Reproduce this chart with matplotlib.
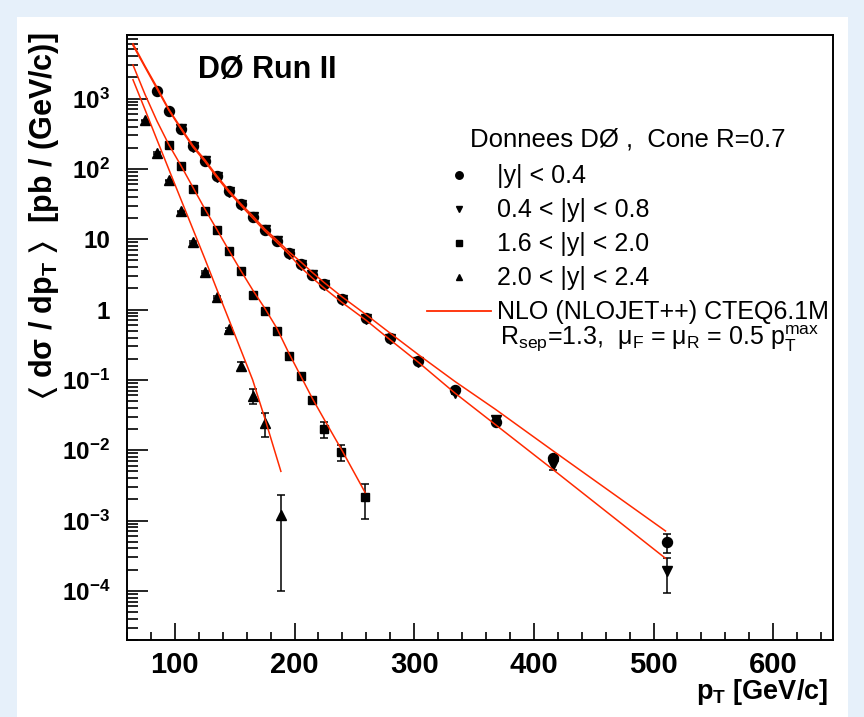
import math
import matplotlib
matplotlib.use('Agg')
import matplotlib.pyplot as plt
from matplotlib.ticker import FixedLocator, MultipleLocator, LogLocator, FuncFormatter, NullFormatter
from matplotlib.lines import Line2D
from matplotlib.patches import Rectangle

# ---------------- data ----------------
# |y| < 0.4  (circles)
pt_y04 = [85, 95, 105, 115, 125, 135, 145, 155, 165, 175, 185, 195, 205, 215,
          225, 239.5, 259.6, 279.6, 303.6, 334, 368, 416, 511]
xs_y04 = [1290, 675, 370, 209, 131, 78, 48, 32, 21, 13.7, 9.55, 6.4, 4.46, 3.14,
          2.27, 1.39, 0.762, 0.396, 0.184, 0.0714, 0.025, 0.0078, 5.0e-4]
er_y04 = [30, 15, 8, 4, 2.5, 1.5, 0.9, 0.6, 0.4, 0.25, 0.18, 0.12, 0.08, 0.06,
          0.04, 0.025, 0.014, 0.008, 0.004, 0.002, 0.001, 0.0006, 1.5e-4]

# 0.4 < |y| < 0.8  (down triangles)
pt_y08 = [105, 115, 125, 135, 145, 155, 165, 175, 185, 195, 205, 215,
          225, 239.5, 259.6, 279.6, 303.6, 334, 368, 416, 511]
xs_y08 = [365, 205, 128, 76, 47, 31, 20.5, 13.3, 9.3, 6.2, 4.3, 3.05,
          2.2, 1.35, 0.74, 0.385, 0.178, 0.065, 0.027, 0.0061, 1.92e-4]
er_y08 = [8, 4, 2.5, 1.5, 0.9, 0.6, 0.4, 0.25, 0.18, 0.12, 0.08, 0.06,
          0.04, 0.025, 0.014, 0.008, 0.004, 0.002, 0.0025, 0.0009, 1.0e-4]

# 1.6 < |y| < 2.0  (squares)
pt_y20 = [95, 105, 115, 125, 135, 145, 155, 165, 175, 185, 195, 205, 215,
          225, 238.7, 259]
xs_y20 = [220, 108, 52, 25.5, 13.3, 6.7, 3.5, 1.63, 0.946, 0.49, 0.217, 0.113, 0.051,
          0.0198, 0.0095, 0.00216]
er_y20 = [5, 2.5, 1.2, 0.6, 0.3, 0.15, 0.08, 0.04, 0.025, 0.013, 0.007, 0.004, 0.003,
          0.005, 0.0025, 0.0011]

# 2.0 < |y| < 2.4  (up triangles)
pt_y24 = [75, 85, 95, 105, 115, 125, 135, 145, 155, 165, 175, 188.6]
xs_y24 = [490, 168, 68.7, 24.9, 9.1, 3.39, 1.5, 0.52, 0.157, 0.059, 0.0245, 0.0012]
er_y24 = [12, 4, 1.6, 0.6, 0.22, 0.09, 0.05, 0.02, 0.02, 0.014, 0.009, 0.0011]

# NLO (NLOJET++) CTEQ6.1M curves
nlo_pt_a = [65, 75, 85, 95, 105, 115, 125, 135, 145, 155, 165, 175, 185, 195, 205,
            215, 225, 240, 260, 280, 304, 334, 368, 416, 510]
nlo_y04 = [6000, 2900, 1450, 700, 385, 215, 135, 80, 49.5, 32, 21.5, 14, 9.8, 6.7, 4.8,
           3.35, 2.4, 1.5, 0.84, 0.46, 0.225, 0.095, 0.038, 0.0098, 7.1e-4]
nlo_y08 = [5700, 2800, 1380, 680, 370, 205, 128, 76, 47, 30.5, 20, 13.2, 9.1, 6.2, 4.0,
           2.8, 2.0, 1.25, 0.70, 0.37, 0.175, 0.065, 0.023, 0.0053, 2.9e-4]
nlo_pt_c = [65, 75, 85, 95, 105, 115, 125, 135, 145, 155, 165, 175, 185, 195, 205,
            215, 225, 240, 259]
nlo_y20 = [3000, 1150, 480, 220, 112, 55, 27, 13.8, 7.0, 3.6, 1.9, 1.05, 0.55, 0.245,
           0.115, 0.054, 0.027, 0.0097, 0.0025]
nlo_pt_d = [65, 75, 85, 95, 105, 115, 125, 135, 145, 155, 165, 175, 188.6]
nlo_y24 = [1850, 700, 260, 98, 37, 14, 5.3, 1.95, 0.73, 0.27, 0.1, 0.029, 0.005]

labels = ["|y| < 0.4", "0.4 < |y| < 0.8", "1.6 < |y| < 2.0", "2.0 < |y| < 2.4",
          "NLO (NLOJET++) CTEQ6.1M"]
legend_title = "Donnees DØ ,  Cone R=0.7"
y_decades = [1e-4, 1e-3, 1e-2, 1e-1, 1, 10, 1e2, 1e3]
x_range = (60, 650)
y_range = (2e-5, 8e3)

# ---------------- style ----------------
plt.rcParams['font.family'] = ['Liberation Sans', 'DejaVu Sans']
plt.rcParams['font.weight'] = 'bold'
plt.rcParams['mathtext.fontset'] = 'custom'
plt.rcParams['mathtext.rm'] = 'Liberation Sans'
plt.rcParams['mathtext.it'] = 'Liberation Sans:italic'
plt.rcParams['mathtext.bf'] = 'Liberation Sans:bold'
plt.rcParams['mathtext.default'] = 'regular'
plt.rcParams['mathtext.fallback'] = 'stix'

RED = '#FF2A00'
W, H = 864, 717
fig = plt.figure(figsize=(W / 100, H / 100), dpi=100, facecolor='#E6F0FA')
fig.add_artist(Rectangle((17 / W, 0), (848 - 17) / W, (H - 17) / H,
                         transform=fig.transFigure, facecolor='white',
                         edgecolor='none', zorder=-10))

ax = fig.add_axes([127 / W, 1 - 640 / H, (833 - 127) / W, (640 - 35) / H])
ax.set_facecolor('white')
ax.set_yscale('log')
ax.set_xlim(*x_range)
ax.set_ylim(*y_range)

ekw = dict(color='k', ls='none', elinewidth=1.1, capsize=3, capthick=1.1, zorder=3)
ax.errorbar(pt_y04, xs_y04, yerr=er_y04, marker='o', ms=7.2, **ekw)
ax.errorbar(pt_y08, xs_y08, yerr=er_y08, marker='v', ms=7.4, **ekw)
ax.errorbar(pt_y20, xs_y20, yerr=er_y20, marker='s', ms=6.3, **ekw)
ax.errorbar(pt_y24, xs_y24, yerr=er_y24, marker='^', ms=7.4, **ekw)

lkw = dict(color=RED, lw=1.1, zorder=4)
ax.plot(nlo_pt_a, nlo_y04, **lkw)
ax.plot(nlo_pt_a, nlo_y08, **lkw)
ax.plot(nlo_pt_c, nlo_y20, **lkw)
ax.plot(nlo_pt_d, nlo_y24, **lkw)

# ticks
def yfmt(v, pos):
    if abs(v - 1) < 1e-9:
        return "1"
    if abs(v - 10) < 1e-9:
        return "10"
    e = int(round(math.log10(v)))
    return r"$10^{%d}$" % e

ax.yaxis.set_major_locator(FixedLocator(y_decades))
ax.yaxis.set_major_formatter(FuncFormatter(yfmt))
ax.yaxis.set_minor_locator(LogLocator(base=10, subs=range(2, 10), numticks=50))
ax.yaxis.set_minor_formatter(NullFormatter())
ax.xaxis.set_major_locator(MultipleLocator(100))
ax.xaxis.set_minor_locator(MultipleLocator(20))

ax.tick_params(axis='both', which='both', direction='in', top=False, right=False,
               width=1.2, colors='k')
ax.tick_params(axis='x', which='major', length=12.2, pad=8, labelsize=21)
ax.tick_params(axis='x', which='minor', length=6)
ax.tick_params(axis='y', which='major', length=15, pad=12, labelsize=17.5)
ax.tick_params(axis='y', which='minor', length=7.7)
for s in ax.spines.values():
    s.set_linewidth(1.4)

# axis titles
fig.text(828 / W, 1 - 692 / H, r"p$_T$ [GeV/c]", ha='right', va='center',
         fontsize=19.5, fontweight='bold')
fig.text(44 / W, 1 - 33 / H, r"$\langle$ d$\sigma$ / dp$_T$ $\rangle$  [pb / (GeV/c)]",
         rotation=90, ha='center', va='top', fontsize=22, fontweight='bold')

# experiment label
fig.text(198 / W, 1 - 78 / H, "DØ Run II", ha='left', va='baseline',
         fontsize=22, fontweight='bold')

# legend
handles = [Line2D([], [], ls='none', marker='o', color='k', ms=5.4),
           Line2D([], [], ls='none', marker='v', color='k', ms=5.0),
           Line2D([], [], ls='none', marker='s', color='k', ms=4.8),
           Line2D([], [], ls='none', marker='^', color='k', ms=5.0)]
handles.append(Line2D([], [], color=RED, lw=1.3))
leg = ax.legend(handles, labels, title=legend_title, loc='upper left',
                bbox_to_anchor=(427 / W, 1 - 128 / H), bbox_transform=fig.transFigure,
                frameon=False, prop={'size': 18, 'weight': 'normal'},
                title_fontproperties={'size': 18.5, 'weight': 'normal'},
                handlelength=2.55, handletextpad=0.25, labelspacing=0.4,
                borderpad=0, borderaxespad=0)
leg._legend_box.sep = 9
fig.text(660 / W, 1 - 339 / H,
         r"R$_{sep}$=1.3,  $\mu_F$ = $\mu_R$ = 0.5 p$_T^{max}$",
         ha='center', va='center', fontsize=18, fontweight='normal')

fig.savefig('out.png', dpi=100, facecolor=fig.get_facecolor())
